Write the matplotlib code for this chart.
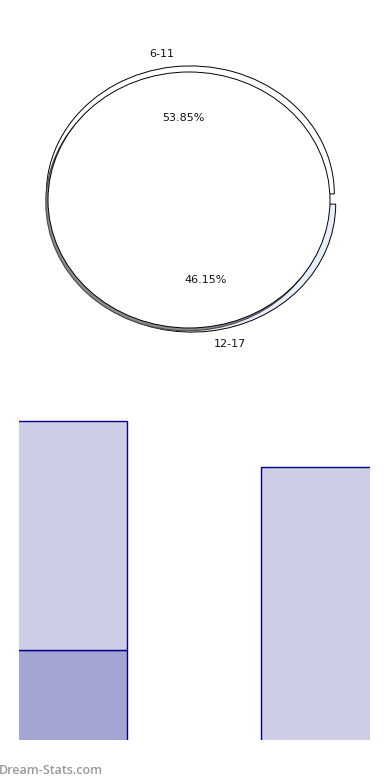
import matplotlib
matplotlib.use("Agg")
import matplotlib.pyplot as plt
from matplotlib.patches import Ellipse
from matplotlib.transforms import offset_copy

# ---- data ----
pie_labels = ["6-11", "12-17"]
pie_values = [7, 6]
pie_colors = ["#ffffff", "#e8eefc"]

bar_categories = ["6-11", "12-17"]
bar_lower = [2, 0]
bar_upper = [5, 6]
lower_color = "#a3a5d2"
upper_color = "#cdcde5"
bar_edge = "#00008b"

W, H = 390, 780
fig = plt.figure(figsize=(W / 100, H / 100), dpi=100)

def px_axes(left, top, width, height):
    return fig.add_axes([left / W, 1 - (top + height) / H, width / W, height / H])

# ---- pie ----
cx, cy, rx, ry = 191, 199, 144, 128
lim = 1.3
axp = px_axes(cx - lim * rx, cy - lim * ry, 2 * lim * rx, 2 * lim * ry)

wedges, texts, autotexts = axp.pie(
    pie_values, labels=pie_labels, colors=pie_colors, startangle=0,
    counterclock=True, explode=[0.04, 0.04], autopct="%.2f%%",
    pctdistance=0.6, labeldistance=1.1,
    wedgeprops=dict(edgecolor="black", linewidth=0.7),
    textprops=dict(fontsize=8, color="#111111"), frame=True)
axp.set_xlim(-lim, lim)
axp.set_ylim(-lim, lim)
axp.set_aspect("auto")
axp.axis("off")

# shadow and top face
ox, oy = -2 / rx, -1 / ry
shadow = Ellipse((ox - 2.2 / rx, oy - 2.8 / ry), 2 * 141 / rx, 2 * 128 / ry,
                 facecolor="#8c8c8c", edgecolor="#4a4a4a", lw=0.8, zorder=1.5)
axp.add_patch(shadow)
face = Ellipse((ox, oy), 2 * 141 / rx, 2 * 128 / ry, facecolor="white",
               edgecolor="black", lw=0.7, zorder=2)
axp.add_patch(face)
for t in texts + autotexts:
    t.set_zorder(3)
    t.set_transform(offset_copy(t.get_transform(), fig=fig, x=3.5, y=0, units="dots"))

# ---- bars ----
axb = px_axes(19, 398, 351, 342)
x = [0, 1]
axb.bar(x, bar_lower, width=0.5, color=lower_color, edgecolor=bar_edge, linewidth=1)
axb.bar(x, bar_upper, width=0.5, bottom=bar_lower, color=upper_color,
        edgecolor=bar_edge, linewidth=1)
axb.set_xlim(-0.153, 1.157)
axb.set_ylim(0.03, 7.5)
axb.axis("off")

fig.text(-1 / W, 1 - 770.5 / H, "Dream-Stats.com", fontsize=9, color="#9a9a9a",
         family="Open Sans", fontweight="semibold", ha="left", va="center")

fig.savefig("out.png", dpi=100)
